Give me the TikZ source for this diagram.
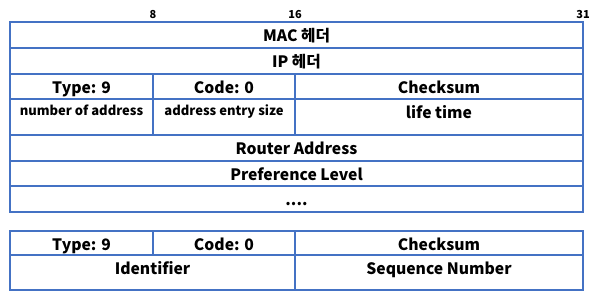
\documentclass[tikz,border=0pt]{standalone}
\usepackage{fontspec}
\setmainfont{Noto Sans CJK KR}
\usetikzlibrary{positioning}
\definecolor{frameBlue}{HTML}{4472C4}

\begin{document}
\begin{tikzpicture}[
  x=1pt, y=-1pt,
  font=\fontsize{15.7}{18}\selectfont\bfseries,
  node distance=0pt,
  field/.style={
    rectangle, draw=frameBlue, line width=2.3pt, outer sep=0pt,
    inner sep=0pt, text height=19pt, align=center, text=black
  },
  wide/.style={field, minimum width=573pt},
  narrow/.style={field, minimum width=143pt},
  half/.style={field, minimum width=142pt},
  rest/.style={field, minimum width=288pt},
  small/.style={font=\fontsize{13}{15}\selectfont\bfseries, text height=16pt},
  bitnum/.style={font=\fontsize{11}{12}\selectfont\bfseries, anchor=base},
]
\useasboundingbox (0,0) rectangle (596,298);

% bit offsets above the first table
\node[bitnum] (b8) at (153,18.3) {8};
\node[bitnum] (b16) at (295,18.3) {16};
\node[bitnum] (b31) at (583,18.3) {31};

% router advertisement
\node[wide, text depth=7pt, anchor=north west] (mac) at (10,22) {MAC 헤더};
\node[wide, text depth=7pt, below=of mac] (ip) {IP 헤더};
\node[narrow, text depth=6pt, below=of ip.south west, anchor=north west] (type) {Type: 9};
\node[half, text depth=6pt, right=of type] (code) {Code: 0};
\node[rest, text depth=6pt, right=of code] (cksum) {Checksum};
\node[narrow, small, text depth=20pt, below=of type] (naddr) {number of address};
\node[half, small, text depth=20pt, below=of code] (esize) {address entry size};
\node[rest, text depth=17pt, below=of cksum] (life) {life time};
\node[wide, text depth=7pt, below=of naddr.south west, anchor=north west] (router) {Router Address};
\node[wide, text depth=6pt, below=of router] (pref) {Preference Level};
\node[wide, text depth=7pt, below=of pref] (dots) {....};

% second message
\node[narrow, text depth=5pt, anchor=north west] (type2) at (10,231) {Type: 9};
\node[half, text depth=5pt, right=of type2] (code2) {Code: 0};
\node[rest, text depth=5pt, right=of code2] (cksum2) {Checksum};
\node[field, minimum width=285pt, text depth=16pt, below=of type2.south west, anchor=north west] (ident) {Identifier};
\node[rest, text depth=16pt, below=of cksum2] (seqno) {Sequence Number};

\end{tikzpicture}
\end{document}
